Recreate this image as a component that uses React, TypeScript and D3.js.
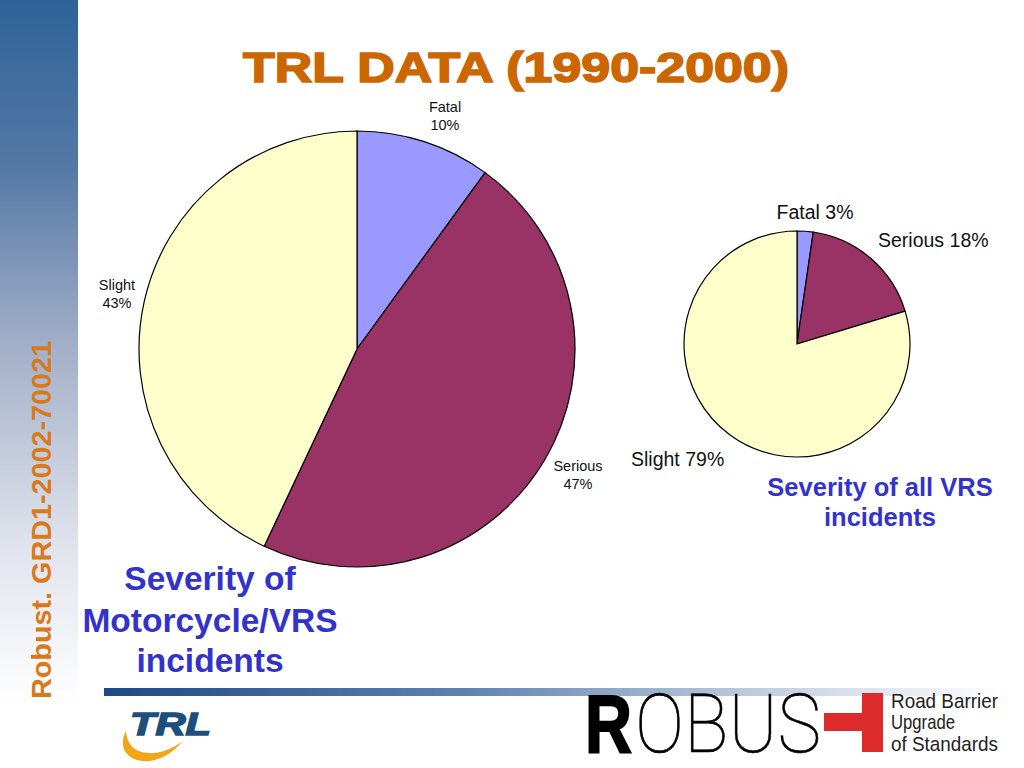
import React from 'react';
import * as d3 from 'd3';

// Severity of Motorcycle/VRS incidents (large pie)
const bigCategories = ['Fatal', 'Serious', 'Slight'];
const bigValues = [10, 47, 43];
const bigLabels = ['10%', '47%', '43%'];

// Severity of all VRS incidents (small pie) - slice sizes
const smallCategories = ['Fatal', 'Serious', 'Slight'];
const smallValues = [2.3, 18, 79.7];
const smallLabels = ['3%', '18%', '79%'];

const sliceColors = ['#9999FF', '#993366', '#FFFFCC'];

const W = 1024;
const H = 768;

const pie = d3.pie<number>().sort(null).value(d => d);

export default function App() {
    const bigArc = d3.arc<d3.PieArcDatum<number>>().innerRadius(0).outerRadius(218);
    const smallArc = d3.arc<d3.PieArcDatum<number>>().innerRadius(0).outerRadius(113);
    const bigSlices = pie(bigValues);
    const smallSlices = pie(smallValues);

    // label anchor positions (relative to each pie centre)
    const bigLabelPos = [
        { x: 88, y: -237 },
        { x: 221, y: 122 },
        { x: -240, y: -59 },
    ];
    const smallLabelPos = [
        { x: 18, y: -125, anchor: 'middle' },
        { x: 81, y: -97, anchor: 'start' },
        { x: -166, y: 122, anchor: 'start' },
    ];

    return (
        <svg width={W} height={H} style={{ display: 'block', position: 'absolute', left: 0, top: 0 }}
            fontFamily="'Liberation Sans', Arial, sans-serif">
            <defs>
                <linearGradient id="sideBar" x1="0" y1="0" x2="0" y2="1">
                    <stop offset="0" stopColor="#2E6398" />
                    <stop offset="0.22" stopColor="#5579A6" />
                    <stop offset="0.45" stopColor="#A2AFC8" />
                    <stop offset="0.72" stopColor="#E2E5EE" />
                    <stop offset="0.92" stopColor="#FFFFFF" />
                </linearGradient>
                <linearGradient id="baseLine" x1="0" y1="0" x2="1" y2="0">
                    <stop offset="0" stopColor="#1C4A86" />
                    <stop offset="0.4" stopColor="#5E82B0" />
                    <stop offset="0.75" stopColor="#C5D2E2" />
                    <stop offset="1" stopColor="#FFFFFF" />
                </linearGradient>
            </defs>
            <rect width={W} height={H} fill="#FFFFFF" />
            <rect x={0} y={0} width={78} height={H} fill="url(#sideBar)" />
            <text
                transform="translate(51,520) rotate(-90)"
                textAnchor="middle"
                fontSize={28}
                fontWeight="bold"
                fill="#D9791A"
                textLength={358}
                lengthAdjust="spacingAndGlyphs"
            >
                Robust. GRD1-2002-70021
            </text>

            {/* Title */}
            <text x={516} y={82} textAnchor="middle" fontSize={42} fontWeight="bold" fill="#CC6600"
                stroke="#CC6600" strokeWidth={1.6} textLength={546} lengthAdjust="spacingAndGlyphs">
                TRL DATA (1990-2000)
            </text>

            {/* Large pie */}
            <g transform="translate(357,349)">
                {bigSlices.map((s, i) => (
                    <path key={bigCategories[i]} d={bigArc(s) || ''} fill={sliceColors[i]} stroke="#000" strokeWidth={1.2} />
                ))}
                {bigSlices.map((s, i) => (
                    <text key={'l' + i} x={bigLabelPos[i].x} y={bigLabelPos[i].y} textAnchor="middle" fontSize={14.5} fill="#111">
                        <tspan x={bigLabelPos[i].x} dy={0}>{bigCategories[i]}</tspan>
                        <tspan x={bigLabelPos[i].x} dy={18}>{bigLabels[i]}</tspan>
                    </text>
                ))}
            </g>

            {/* Small pie */}
            <g transform="translate(797,344)">
                {smallSlices.map((s, i) => (
                    <path key={smallCategories[i]} d={smallArc(s) || ''} fill={sliceColors[i]} stroke="#000" strokeWidth={1.2} />
                ))}
                {smallSlices.map((s, i) => (
                    <text key={'l' + i} x={smallLabelPos[i].x} y={smallLabelPos[i].y} textAnchor={smallLabelPos[i].anchor} fontSize={19.5} fill="#111">
                        {smallCategories[i] + ' ' + smallLabels[i]}
                    </text>
                ))}
            </g>

            {/* Captions */}
            <text textAnchor="middle" fontSize={25.5} fontWeight="bold" fill="#3333CC">
                <tspan x={880} y={496}>Severity of all VRS</tspan>
                <tspan x={880} y={526}>incidents</tspan>
            </text>
            <text textAnchor="middle" fontSize={33.5} fontWeight="bold" fill="#3333CC">
                <tspan x={210} y={590}>Severity of</tspan>
                <tspan x={210} y={632}>Motorcycle/VRS</tspan>
                <tspan x={210} y={672}>incidents</tspan>
            </text>

            {/* Footer line */}
            <rect x={104} y={688} width={900} height={8} fill="url(#baseLine)" />

            {/* TRL logo */}
            <g>
                <path d="M126,731 C117,748 128,763 150,761 C163,759 173,752 183,741 C171,750 158,754 147,753 C135,752 127,745 126,731 Z" fill="#F2A516" />
                <text x={130} y={735} fontSize={31} fontWeight="bold" fontStyle="italic" fill="#1D4F7C"
                    textLength={81} lengthAdjust="spacingAndGlyphs" stroke="#1D4F7C" strokeWidth={1.5}>TRL</text>
            </g>

            {/* ROBUS logo */}
            <g>
                <text x={585} y={752} fontSize={82} fontWeight="bold" fill="#000" stroke="#000" strokeWidth={2}
                    textLength={47} lengthAdjust="spacingAndGlyphs">R</text>
                <text x={635} y={752} fontSize={82} fontWeight={100} fontFamily="Roboto, 'DejaVu Sans', sans-serif" fill="#000"
                    stroke="#000" strokeWidth={0.6} textLength={186} lengthAdjust="spacingAndGlyphs">OBUS</text>
                <rect x={824} y={713} width={40} height={18} fill="#DD2A2A" />
                <rect x={862} y={693} width={21} height={59} fill="#DD2A2A" />
                <text fontSize={21} fill="#222">
                    <tspan x={891} y={708} textLength={107} lengthAdjust="spacingAndGlyphs">Road Barrier</tspan>
                    <tspan x={891} y={729} textLength={64} lengthAdjust="spacingAndGlyphs">Upgrade</tspan>
                    <tspan x={891} y={751} textLength={107} lengthAdjust="spacingAndGlyphs">of Standards</tspan>
                </text>
            </g>
        </svg>
    );
}
